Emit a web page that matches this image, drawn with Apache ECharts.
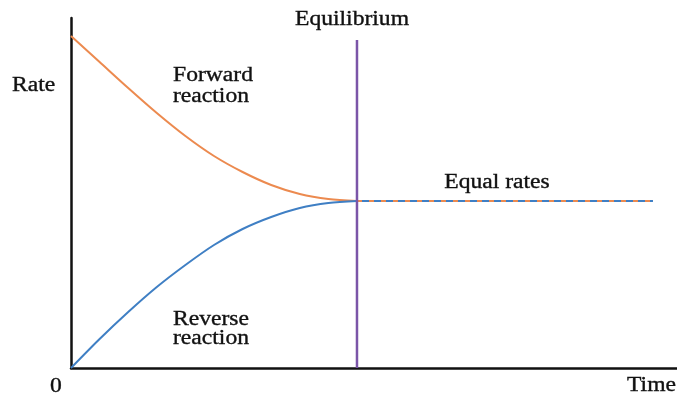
<!DOCTYPE html>
<html>
<head>
<meta charset="utf-8">
<script src="https://cdn.jsdelivr.net/npm/echarts@6/dist/echarts.min.js"></script>
<style>
  html, body { margin: 0; padding: 0; background: #fff; }
  #chart { width: 677px; height: 395px; }
</style>
</head>
<body>
<div id="chart"></div>
<script>
// Reaction rates over time, approaching equilibrium
const time = [0, 1, 2, 3, 4, 5, 6, 7, 8, 9, 10];
const forwardRate = [33.2, 30.6, 28.0, 25.5, 23.2, 21.2, 19.6, 18.3, 17.4, 16.9, 16.7];
const reverseRate = [0, 2.9, 5.6, 8.1, 10.3, 12.3, 13.9, 15.1, 16.0, 16.5, 16.7];
const equilibriumTime = 10;
const equilibriumRate = 16.7;
const endTime = 20.35;
const equilibriumLineTop = 32.8;
const xMax = 21.19;
const yMax = 35;

const labels = {
  rate: 'Rate',
  origin: '0',
  time: 'Time',
  equilibrium: 'Equilibrium',
  forward: ['Forward', 'reaction'],
  reverse: ['Reverse', 'reaction'],
  equal: 'Equal rates'
};

const ORANGE = '#ec8a4f';
const BLUE = '#3f7fc4';
const PURPLE = '#7b55a8';
const FONT = '"Liberation Serif", "Times New Roman", serif';

function pairs(xs, ys) { return xs.map((x, i) => [x, ys[i]]); }

function text(str, x, y, align) {
  return {
    type: 'text', x: x, y: y, scaleX: 1.18,
    style: {
      text: str, fill: '#111', font: '20px ' + FONT,
      stroke: '#111', lineWidth: 0.35,
      textAlign: align || 'left', textVerticalAlign: 'middle'
    }
  };
}

const chart = echarts.init(document.getElementById('chart'));
chart.setOption({
  animation: false,
  backgroundColor: '#fff',
  grid: { left: 71, right: 0, top: 18, bottom: 27 },
  xAxis: {
    type: 'value', min: 0, max: xMax,
    axisLine: { show: true, lineStyle: { color: '#111', width: 2.5 } },
    axisTick: { show: false }, axisLabel: { show: false }, splitLine: { show: false }
  },
  yAxis: {
    type: 'value', min: 0, max: yMax,
    axisLine: { show: true, lineStyle: { color: '#111', width: 2.5 } },
    axisTick: { show: false }, axisLabel: { show: false }, splitLine: { show: false }
  },
  series: [
    {
      type: 'line', data: pairs(time, forwardRate), smooth: 0.3,
      showSymbol: false, lineStyle: { color: ORANGE, width: 2 }
    },
    {
      type: 'line', data: pairs(time, reverseRate), smooth: 0.3,
      showSymbol: false, lineStyle: { color: BLUE, width: 2 }
    },
    {
      type: 'line', data: [[equilibriumTime, equilibriumRate], [endTime, equilibriumRate]],
      showSymbol: false, lineStyle: { color: BLUE, width: 2 }
    },
    {
      type: 'line', data: [[equilibriumTime, equilibriumRate], [endTime, equilibriumRate]],
      showSymbol: false, lineStyle: { color: ORANGE, width: 2, type: [5, 7] }
    },
    {
      type: 'line', data: [[equilibriumTime, 0], [equilibriumTime, equilibriumLineTop]],
      showSymbol: false, lineStyle: { color: PURPLE, width: 2.5 }
    }
  ],
  graphic: [
    text(labels.rate, 12, 86, 'left'),
    text(labels.origin, 56, 387, 'center'),
    text(labels.time, 676, 386, 'right'),
    text(labels.equilibrium, 352, 20, 'center'),
    text(labels.forward[0], 173, 76, 'left'),
    text(labels.forward[1], 173, 97, 'left'),
    text(labels.reverse[0], 173, 320, 'left'),
    text(labels.reverse[1], 173, 339, 'left'),
    text(labels.equal, 497, 183, 'center')
  ]
});
</script>
</body>
</html>
